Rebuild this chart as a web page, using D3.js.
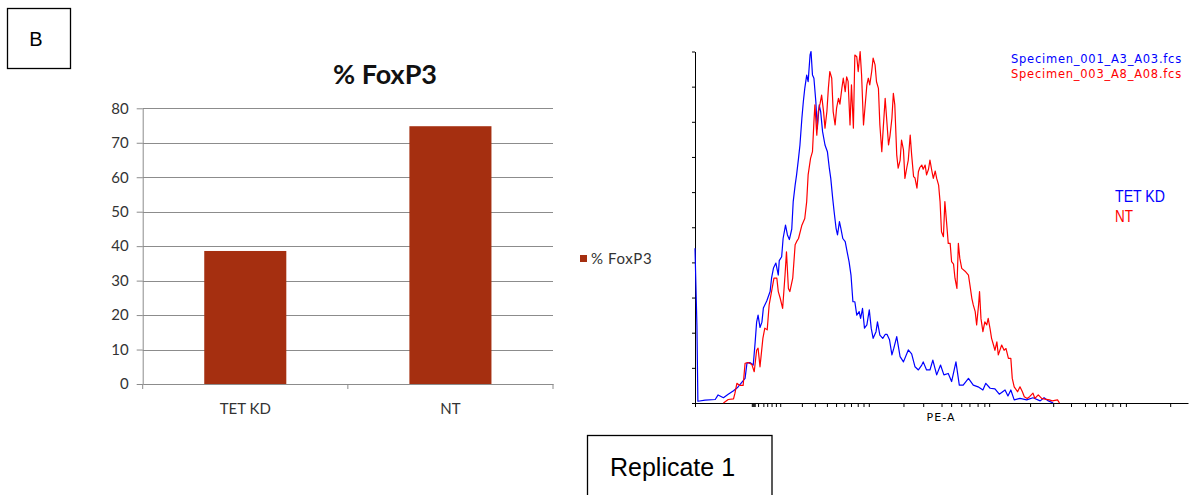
<!DOCTYPE html>
<html>
<head>
<meta charset="utf-8">
<title>FoxP3 - Replicate 1</title>
<script src="https://cdn.jsdelivr.net/npm/d3@7"></script>
<style>
body {
  margin: 0;
  background: #fff;
}
#fig {
  display: block;
}
.bar-axis text {
  font-family: "Lato", "Open Sans", sans-serif;
  font-size: 15px;
  fill: #333;
}
.hist-axis path, .hist-axis line {
  stroke: #000;
}
</style>
</head>
<body>
<svg id="fig" width="1190" height="495"></svg>
<script>
// bar chart data
var barCategories = ["TET KD", "NT"];
var barValues = [38.6, 74.8];
var barTicks = [0, 10, 20, 30, 40, 50, 60, 70, 80];
var barSeries = "% FoxP3";

// histogram data: [channel (of 1024), % of max]
var histNames = ["Specimen_001_A3_A03.fcs", "Specimen_003_A8_A08.fcs"];
var histGroups = ["TET KD", "NT"];
var histYTicks = [0, 10, 20, 30, 40, 50, 60, 70, 80, 90, 100];
var histXTicks = [0, 118, 120, 122, 124, 131, 142, 150, 159, 168, 177, 222, 249, 274, 293, 310, 324, 338, 350, 361,
  433, 474, 512, 532, 553, 570, 587, 601, 611, 696, 744, 781, 810, 833, 852, 867, 883, 895, 987];

var tetKdHist = [[0,44],[4,22],[6,0.5],[21,0.8],[42,1],[48,2.3],[59,1.5],[69,2.5],[80,3.5],[89,4.5],[98,6],[104,7],
  [108,11.4],[114,11.5],[121,10.8],[125,17.4],[128,23],[131,25],[135,21.5],[139,23],[142,27],[149,29],[156,31.7],
  [159,35.5],[163,38.4],[168,39.8],[173,36.4],[175,40.5],[180,41.6],[183,46.8],[188,50.6],[192,47.8],[196,46.5],
  [201,49.5],[204,57.3],[208,62],[211,64.9],[215,69.6],[218,73.4],[222,81],[225,85.7],[228,89.5],[232,93.3],
  [235,91.4],[239,99],[241,100],[244,93.3],[247,92.4],[251,85.7],[254,78],[258,84.8],[261,82.9],[265,77.2],
  [270,73.4],[275,71.5],[279,66.8],[282,63.9],[286,58.2],[289,54.4],[293,49.7],[296,47.8],[300,51.6],[303,49.7],
  [307,46.8],[312,45.9],[316,43],[320,40.2],[324,36.4],[328,28.8],[332,28.8],[336,25],[341,26],[344,24.1],
  [348,26.9],[352,21.3],[357,22.2],[362,26.5],[366,21.3],[370,18.4],[376,20.3],[379,23.1],[384,19.3],[390,18.4],
  [395,19.5],[399,19.5],[404,18],[409,13.7],[413,15.6],[419,18.9],[426,13.2],[433,11.7],[443,15.1],[450,14],
  [457,10.3],[464,9.4],[471,10.8],[474,11.7],[481,9.4],[488,9.4],[494,12.2],[502,8],[510,10.8],[517,8],[526,8.4],
  [533,6.1],[542,11.7],[549,5.1],[557,5.1],[568,7],[578,5.1],[588,4.6],[598,3.7],[604,5.6],[613,4.2],[623,4],
  [632,2.5],[644,3.7],[650,2],[656,3.7],[663,0.9],[675,1.3],[689,0.9],[702,1.5],[717,0.6],[725,1.5],[734,0.6],[744,0]];

var ntHist = [[59,0],[69,1],[80,1.2],[83,2.8],[87,5.6],[93,5],[100,5],[104,11.3],[110,11.5],[118,11],[123,8.9],
  [128,15],[131,15.6],[135,10.3],[141,18.4],[145,21.3],[150,20.8],[154,27.9],[159,31.7],[164,35.5],[170,35.5],
  [173,31.7],[177,29.8],[182,26.9],[187,36.4],[190,43],[194,32.6],[197,31.7],[203,35.5],[208,45],[211,45.9],
  [215,46.8],[222,50.6],[228,52.5],[232,57.3],[235,64.9],[240,69.6],[244,71.5],[247,80],[249,84.8],[253,76.2],
  [256,82.9],[260,85.3],[263,87.6],[267,82.9],[270,78.2],[274,83],[277,89.5],[280,94.3],[284,92.4],[287,82.9],
  [291,79.1],[294,83.8],[298,86.7],[301,85],[305,89.5],[308,92.4],[312,88.6],[315,92.8],[318,91.5],[322,79.1],
  [325,90.5],[329,78.2],[332,99],[336,98.5],[339,94.3],[343,100],[346,93.3],[350,79.1],[353,84],[357,90.5],
  [360,92.4],[363,90.5],[367,94.3],[370,98.1],[374,96.2],[377,91.4],[381,89.5],[384,79.1],[388,71.5],[391,78.2],
  [395,86.7],[398,81],[402,73.4],[405,76],[409,81],[412,88.1],[415,84.8],[419,70.6],[422,66.8],[426,69],
  [429,74.8],[433,72],[436,63.9],[440,67],[443,69.1],[447,76.2],[450,70.6],[454,64.4],[457,64],[461,61.1],
  [464,65.8],[467,67],[471,67.7],[474,66.5],[478,67.7],[481,64.9],[485,66.5],[488,69.1],[492,66],[495,63.9],
  [499,66],[502,63.9],[506,62],[509,57.3],[512,48.7],[516,47.3],[519,57.3],[523,50.6],[526,45.4],[530,45.4],
  [533,40.2],[537,39.5],[540,35.5],[544,32.6],[547,45.4],[550,41.2],[554,38.3],[561,37.5],[568,36.4],[571,33.6],
  [575,29.8],[578,27.9],[582,26],[585,22.2],[589,27.9],[591,31.7],[594,24],[598,20.3],[602,23.1],[606,22.2],
  [609,24.1],[613,21],[616,18.4],[620,16.5],[623,15],[627,17.4],[630,13.7],[637,16.5],[642,15],[646,15.5],
  [651,12.7],[656,12.7],[659,7],[663,4.6],[670,3.2],[675,4.6],[680,3.2],[684,1.8],[690,1.3],[695,1.8],[702,2.8],
  [706,1.3],[713,2.3],[720,1.3],[727,1.1],[736,0.9],[742,0.6],[753,0.9],[757,0]];

var barColor = "#a52f10";
var gridColor = "#8c8c8c";
var histColors = ["#0000ff", "#ff0000"];

var svg = d3.select("#fig");

// ---- panel label "B"
svg.append("rect").attr("x", 7.5).attr("y", 8.5).attr("width", 63).attr("height", 60)
  .attr("fill", "none").attr("stroke", "#000").attr("stroke-width", 1.3);
svg.append("text").attr("x", 36).attr("y", 46).attr("text-anchor", "middle")
  .style("font-family", "Liberation Sans, Arial, sans-serif").style("font-size", "20px").text("B");

// ---- bar chart
var bx = d3.scaleBand().domain(barCategories).range([142.7, 553]).paddingInner(0.6).paddingOuter(0.3);
var by = d3.scaleLinear().domain([0, 80]).range([384, 108.3]);

var bg = svg.append("g");
bg.append("g").selectAll("line").data(barTicks.slice(1)).join("line")
  .attr("x1", 142.7).attr("x2", 553)
  .attr("y1", d => Math.round(by(d)) + 0.5).attr("y2", d => Math.round(by(d)) + 0.5)
  .attr("stroke", gridColor).attr("stroke-width", 1);

bg.selectAll("rect.bar").data(barValues).join("rect").attr("class", "bar")
  .attr("x", (d, i) => bx(barCategories[i]))
  .attr("width", bx.bandwidth())
  .attr("y", d => by(d))
  .attr("height", d => by(0) - by(d))
  .attr("fill", barColor);

bg.append("g").attr("class", "bar-axis").attr("transform", "translate(142.7,0)")
  .call(d3.axisLeft(by).tickValues(barTicks).tickSize(6).tickPadding(8).tickSizeOuter(0));
bg.append("g").attr("class", "bar-axis").attr("transform", "translate(0,384)")
  .call(d3.axisBottom(bx).tickSize(0).tickPadding(19));
// category boundary ticks
bg.append("g").selectAll("line").data([0, 1, 2]).join("line")
  .attr("x1", i => 142.7 + i * bx.step()).attr("x2", i => 142.7 + i * bx.step())
  .attr("y1", 384).attr("y2", 389).attr("stroke", gridColor);
bg.selectAll(".bar-axis path, .bar-axis line").attr("stroke", gridColor);

bg.append("text").attr("x", 385).attr("y", 84).attr("text-anchor", "middle")
  .style("font-family", "Lato, Open Sans, sans-serif").style("font-weight", "bold")
  .style("font-size", "27px").attr("fill", "#111").text(barSeries);

// legend
bg.append("rect").attr("x", 580).attr("y", 255).attr("width", 7).attr("height", 7).attr("fill", barColor);
bg.append("text").attr("x", 591).attr("y", 263.5)
  .style("font-family", "Lato, Open Sans, sans-serif").style("font-size", "15px")
  .style("letter-spacing", "0.6px").attr("fill", "#333").text(barSeries);

// ---- histogram
var hx = d3.scaleLinear().domain([0, 1024]).range([695, 1188]);
var hy = d3.scaleLinear().domain([0, 100]).range([403, 51.5]);

var hg = svg.append("g");
hg.append("g").attr("class", "hist-axis").attr("transform", "translate(695,0)")
  .call(d3.axisLeft(hy).tickValues(histYTicks).tickSize(3).tickFormat("").tickSizeOuter(0));
hg.append("g").attr("class", "hist-axis").attr("transform", "translate(0,403)")
  .call(d3.axisBottom(hx).tickValues(histXTicks).tickSize(4).tickFormat("").tickSizeOuter(0));

var line = d3.line().x(d => hx(d[0])).y(d => hy(d[1]));
[tetKdHist, ntHist].forEach(function(s, i) {
  hg.append("path").datum(s).attr("d", line).attr("fill", "none")
    .attr("stroke", histColors[i]).attr("stroke-width", 1.2).attr("stroke-linejoin", "round");
});

hg.selectAll("text.fname").data(histNames).join("text").attr("class", "fname")
  .attr("x", 1011).attr("y", (d, i) => 63 + i * 14.5)
  .style("font-family", "DejaVu Sans, Verdana, sans-serif").style("font-size", "11.5px")
  .style("letter-spacing", "0.75px")
  .attr("fill", (d, i) => histColors[i]).text(d => d);

hg.selectAll("text.grp").data(histGroups).join("text").attr("class", "grp")
  .attr("x", 1115).attr("y", (d, i) => 202 + i * 19.5)
  .attr("textLength", (d, i) => i === 0 ? 50 : 18).attr("lengthAdjust", "spacingAndGlyphs")
  .style("font-family", "Liberation Sans, Arial, sans-serif").style("font-size", "17px")
  .attr("fill", (d, i) => histColors[i]).text(d => d);

hg.append("text").attr("x", 941).attr("y", 421).attr("text-anchor", "middle")
  .style("font-family", "DejaVu Sans, Verdana, sans-serif").style("font-size", "11px")
  .style("letter-spacing", "1px").text("PE-A");

// ---- replicate label
svg.append("rect").attr("x", 587.5).attr("y", 435.5).attr("width", 184.5).attr("height", 70)
  .attr("fill", "none").attr("stroke", "#000").attr("stroke-width", 1.3);
svg.append("text").attr("x", 610).attr("y", 476)
  .style("font-family", "Liberation Sans, Arial, sans-serif").style("font-size", "25px").text("Replicate 1");
</script>
</body>
</html>
